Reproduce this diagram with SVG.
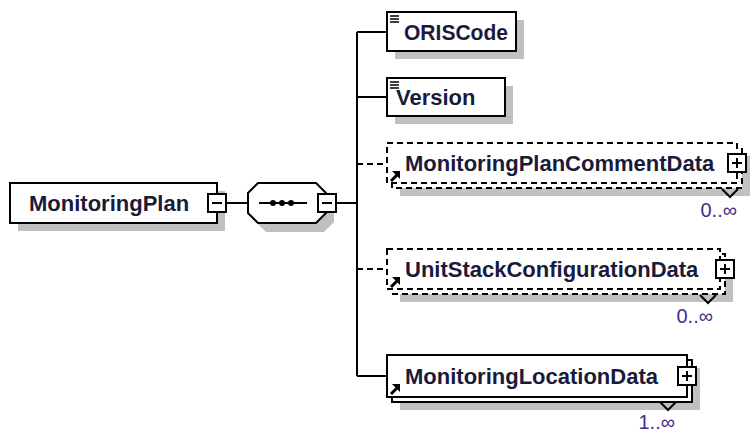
<svg xmlns="http://www.w3.org/2000/svg" width="754" height="432" viewBox="0 0 754 432">
<style>
.sh{fill:#c0c0c0}
.bx{fill:#fff;stroke:#000;stroke-width:2}
.db{fill:#fff;stroke:#000;stroke-width:2;stroke-dasharray:6,4}
.ln{fill:none;stroke:#000;stroke-width:2}
.dl{fill:none;stroke:#000;stroke-width:2;stroke-dasharray:6,4}
.t{font-family:"Liberation Sans",Arial,sans-serif;font-weight:bold;font-size:22px;fill:#1a1a3a}
.m{font-family:"Liberation Sans",Arial,sans-serif;font-size:20px;fill:#40308a}
.pb{fill:#fff;stroke:#000;stroke-width:2}
</style>
<defs>
<g id="plus"><rect class="pb" x="-9" y="-9" width="18" height="18"/><path class="ln" d="M-5,0H5M0,-5V5"/></g>
<g id="minus"><rect class="pb" x="-9" y="-9" width="18" height="18"/><path class="ln" d="M-5,0H5"/></g>
<g id="arr"><path d="M1,10L7,4" stroke="#000" stroke-width="3"/><path d="M2,0H10V8Z" fill="#000"/></g>
<g id="eq"><path d="M0,1H9M0,4H9M0,7H9" stroke="#000" stroke-width="1.6"/></g>
</defs>
<g id="connectors">
<path class="ln" d="M226,203H248M336,203H357M357,32V376M357,32H387M357,97H387M357,376H387"/>
<path class="dl" d="M357,164H387M357,269H387"/>
</g>
<g id="MonitoringPlan">
<rect class="sh" x="18" y="191" width="207" height="40"/>
<rect class="bx" x="10" y="183" width="207" height="40"/>
<text class="t" x="29" y="211">MonitoringPlan</text>
<use href="#minus" x="217" y="203"/>
</g>
<g id="sequence">
<polygon class="sh" points="266,192 324,192 334,202 334,222 324,232 266,232 256,222 256,202"/>
<polygon class="bx" points="258,183 316,183 326,193 326,213 316,223 258,223 248,213 248,193"/>
<path class="ln" d="M259,203H307"/>
<circle cx="273" cy="203" r="3"/><circle cx="282" cy="203" r="3"/><circle cx="291" cy="203" r="3"/>
<use href="#minus" x="327" y="203"/>
</g>
<g id="ORISCode">
<rect class="sh" x="395" y="20" width="129" height="39"/>
<rect class="bx" x="387" y="12" width="129" height="39"/>
<use href="#eq" x="390" y="15"/>
<text class="t" x="404" y="40" textLength="104" lengthAdjust="spacingAndGlyphs">ORISCode</text>
</g>
<g id="Version">
<rect class="sh" x="395" y="86" width="118" height="38"/>
<rect class="bx" x="387" y="78" width="118" height="38"/>
<use href="#eq" x="390" y="81"/>
<text class="t" x="396" y="105">Version</text>
</g>
<g id="MonitoringPlanCommentData">
<rect class="sh" x="400" y="156" width="350" height="40"/>
<rect class="db" x="392" y="148" width="350" height="40"/>
<rect class="db" x="387" y="143" width="350" height="40"/>
<use href="#arr" x="390" y="171"/>
<text class="t" x="405" y="171">MonitoringPlanCommentData</text>
<use href="#plus" x="737" y="163"/>
<path class="ln" d="M722,189L730,197L738,189"/>
<text class="m" x="737" y="217" text-anchor="end">0..∞</text>
</g>
<g id="UnitStackConfigurationData">
<rect class="sh" x="400" y="262" width="333" height="40"/>
<rect class="db" x="392" y="254" width="333" height="40"/>
<rect class="db" x="387" y="249" width="333" height="40"/>
<use href="#arr" x="390" y="277"/>
<text class="t" x="405" y="277">UnitStackConfigurationData</text>
<use href="#plus" x="725" y="269"/>
<path class="ln" d="M700,295L708,303L716,295"/>
<text class="m" x="713" y="323" text-anchor="end">0..∞</text>
</g>
<g id="MonitoringLocationData">
<rect class="sh" x="400" y="368" width="300" height="42"/>
<rect class="bx" x="392" y="360" width="300" height="42"/>
<rect class="bx" x="387" y="355" width="300" height="42"/>
<use href="#arr" x="390" y="384"/>
<text class="t" x="405" y="384">MonitoringLocationData</text>
<use href="#plus" x="687" y="376"/>
<path class="ln" d="M660,402L668,410L676,402"/>
<text class="m" x="675" y="429" text-anchor="end">1..∞</text>
</g>
</svg>
